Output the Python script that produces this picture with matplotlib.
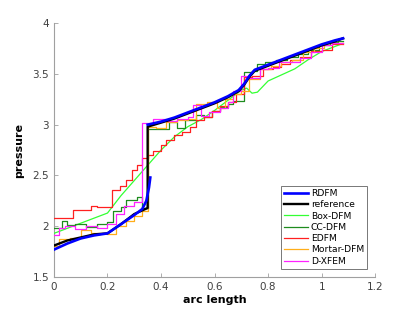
import numpy as np
import matplotlib.pyplot as plt

# RDFM (two pieces, broken at the fracture)
rdfm_x = [0.0, 0.05, 0.10, 0.15, 0.20, 0.25, 0.30, 0.33, 0.345, 0.355, 0.36, np.nan,
          0.35, 0.40, 0.45, 0.50, 0.55, 0.60, 0.65, 0.69, 0.71, 0.73, 0.75, 0.80,
          0.85, 0.90, 0.95, 1.00, 1.05, 1.08]
rdfm_y = [1.77, 1.83, 1.88, 1.91, 1.93, 2.02, 2.11, 2.17, 2.25, 2.38, 2.48, np.nan,
          3.00, 3.03, 3.07, 3.12, 3.17, 3.22, 3.28, 3.34, 3.40, 3.48, 3.54, 3.59,
          3.64, 3.69, 3.74, 3.79, 3.83, 3.85]

ref_x = [0.0, 0.05, 0.10, 0.15, 0.20, 0.25, 0.30, 0.35, 0.35, 0.40, 0.45, 0.50,
         0.55, 0.60, 0.65, 0.69, 0.71, 0.73, 0.75, 0.80, 0.85, 0.90, 0.95, 1.00,
         1.05, 1.08]
ref_y = [1.81, 1.86, 1.89, 1.92, 1.93, 2.02, 2.12, 2.18, 2.98, 3.02, 3.06, 3.11,
         3.16, 3.21, 3.27, 3.33, 3.39, 3.47, 3.53, 3.58, 3.63, 3.68, 3.73, 3.78,
         3.82, 3.85]

box_x = [0.0, 0.20, 0.25, 0.30, 0.35, 0.40, 0.45, 0.50, 0.55, 0.60, 0.65, 0.70,
         0.72, 0.74, 0.76, 0.80, 0.85, 0.90, 0.95, 1.00, 1.05, 1.08]
box_y = [1.93, 2.13, 2.30, 2.45, 2.60, 2.75, 2.88, 2.98, 3.05, 3.14, 3.24, 3.34,
         3.36, 3.31, 3.32, 3.43, 3.49, 3.55, 3.64, 3.72, 3.77, 3.80]

# staircase solutions (x = left edge of each cell, y = cell value)
cc_x = [0.0, 0.03, 0.05, 0.08, 0.12, 0.16, 0.20, 0.22, 0.25, 0.27, 0.31, 0.33,
        0.35, 0.38, 0.43, 0.46, 0.49, 0.53, 0.56, 0.59, 0.62, 0.65, 0.67, 0.71,
        0.74, 0.76, 0.79, 0.83, 0.87, 0.91, 0.95, 0.99, 1.03, 1.06, 1.08]
cc_y = [1.98, 2.05, 2.01, 2.02, 1.99, 2.02, 2.04, 2.15, 2.19, 2.26, 2.29, 2.18,
        2.96, 2.96, 3.03, 2.97, 3.05, 3.10, 3.08, 3.13, 3.17, 3.20, 3.23, 3.52,
        3.53, 3.60, 3.62, 3.64, 3.67, 3.70, 3.74, 3.78, 3.81, 3.82, 3.82]

edfm_x = [0.0, 0.07, 0.14, 0.16, 0.215, 0.245, 0.27, 0.29, 0.31, 0.33, 0.35, 0.37,
          0.40, 0.42, 0.45, 0.48, 0.51, 0.53, 0.56, 0.59, 0.62, 0.65, 0.68, 0.71,
          0.74, 0.78, 0.82, 0.85, 0.88, 0.92, 0.96, 1.00, 1.04, 1.08]
edfm_y = [2.08, 2.16, 2.20, 2.19, 2.36, 2.40, 2.46, 2.55, 2.60, 2.67, 2.70, 2.74,
          2.80, 2.85, 2.90, 2.93, 2.98, 3.05, 3.08, 3.13, 3.18, 3.22, 3.30, 3.47,
          3.48, 3.55, 3.57, 3.60, 3.64, 3.67, 3.73, 3.74, 3.79, 3.79]

mortar_x = [0.0, 0.02, 0.06, 0.10, 0.14, 0.20, 0.23, 0.27, 0.30, 0.33, 0.35, 0.38,
            0.42, 0.46, 0.50, 0.53, 0.57, 0.61, 0.64, 0.67, 0.70, 0.73, 0.77, 0.81,
            0.85, 0.89, 0.93, 0.97, 1.01, 1.05, 1.08]
mortar_y = [1.81, 1.87, 1.88, 1.96, 1.93, 1.92, 2.00, 2.05, 2.10, 2.15, 2.98, 2.97,
            3.03, 3.05, 3.06, 3.20, 3.22, 3.16, 3.25, 3.30, 3.33, 3.45, 3.55, 3.58,
            3.62, 3.64, 3.72, 3.75, 3.80, 3.80, 3.80]

dxfem_x = [0.0, 0.02, 0.04, 0.08, 0.12, 0.16, 0.20, 0.23, 0.26, 0.30, 0.33, 0.37,
           0.42, 0.46, 0.50, 0.52, 0.55, 0.58, 0.62, 0.65, 0.67, 0.70, 0.73, 0.77,
           0.80, 0.84, 0.88, 0.92, 0.96, 1.00, 1.04, 1.08]
dxfem_y = [1.91, 1.98, 2.00, 1.97, 2.00, 1.98, 2.02, 2.12, 2.20, 2.24, 3.02, 3.06,
           3.04, 3.06, 3.08, 3.19, 3.09, 3.12, 3.16, 3.22, 3.33, 3.48, 3.46, 3.55,
           3.56, 3.62, 3.62, 3.66, 3.72, 3.78, 3.80, 3.80]

fig = plt.figure(figsize=(4.15, 3.12), dpi=100)
ax = fig.add_axes([0.130, 0.112, 0.774, 0.814])

ax.plot(rdfm_x, rdfm_y, color='#0000ff', lw=1.9, label='RDFM', zorder=6)
ax.plot(ref_x, ref_y, color='black', lw=1.7, label='reference', zorder=5)
ax.plot(box_x, box_y, color='#33ff33', lw=0.9, label='Box-DFM', zorder=3)
ax.step(cc_x, cc_y, where='post', color='#1e8c1e', lw=0.9, label='CC-DFM', zorder=3)
ax.step(edfm_x, edfm_y, where='post', color='#ff2020', lw=0.9, label='EDFM', zorder=3)
ax.step(mortar_x, mortar_y, where='post', color='#ffae1a', lw=0.9, label='Mortar-DFM', zorder=3)
ax.step(dxfem_x, dxfem_y, where='post', color='#ff22ff', lw=0.9, label='D-XFEM', zorder=3)

ax.set_xlim(0, 1.2)
ax.set_ylim(1.5, 4)
ax.set_xticks([0, 0.2, 0.4, 0.6, 0.8, 1, 1.2])
ax.set_xticklabels(['0', '0.2', '0.4', '0.6', '0.8', '1', '1.2'])
ax.set_yticks([1.5, 2, 2.5, 3, 3.5, 4])
ax.set_yticklabels(['1.5', '2', '2.5', '3', '3.5', '4'])

for s in ['top', 'right']:
    ax.spines[s].set_visible(False)
for s in ['left', 'bottom']:
    ax.spines[s].set_color('#a0a0a0')
    ax.spines[s].set_linewidth(0.8)
ax.tick_params(direction='in', length=3, width=0.6, colors='#a0a0a0',
               labelcolor='#404040', labelsize=7.5)

ax.set_xlabel('arc length', fontsize=8, fontweight='bold', labelpad=2)
ax.set_ylabel('pressure', fontsize=8, fontweight='bold', labelpad=6)

leg = ax.legend(loc='lower right', bbox_to_anchor=(0.975, 0.032), fontsize=6.6,
                frameon=True, fancybox=False, borderpad=0.35, labelspacing=0.25,
                handlelength=2.6, handletextpad=0.3, borderaxespad=0.0)
leg.get_frame().set_edgecolor('#555555')
leg.get_frame().set_linewidth(0.7)

fig.savefig('out.png', dpi=100)
